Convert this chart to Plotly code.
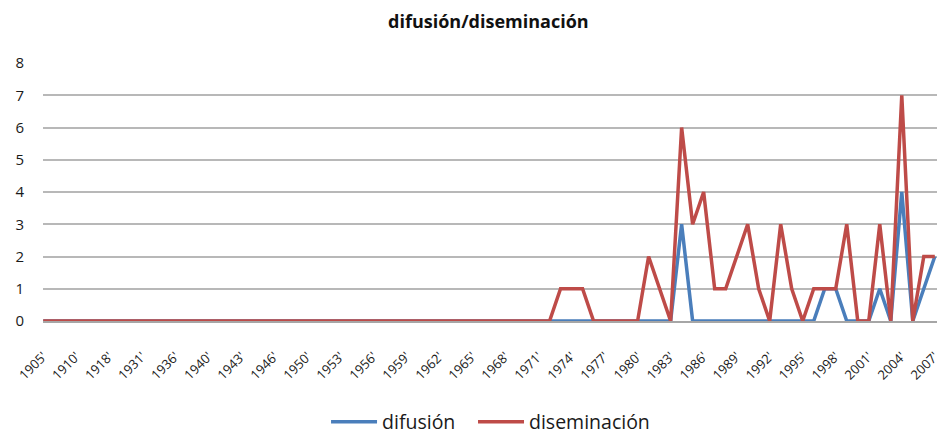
import plotly.graph_objects as go

# Category labels (every 3rd one is shown on the axis; hidden ones are estimates)
years = [
    "1905'", "1907'", "1908'", "1910'", "1912'", "1915'", "1918'", "1922'", "1925'",
    "1931'", "1933'", "1934'", "1936'", "1938'", "1939'", "1940'", "1941'", "1942'",
    "1943'", "1944'", "1945'", "1946'", "1947'", "1948'",
] + [f"{y}'" for y in range(1950, 2008)]

shown_labels = years[::3]

difusion = [0] * 58 + [3] + [0] * 12 + [1, 1, 0, 0, 0, 1, 0, 4, 0, 1, 2]

diseminacion = [0] * 47 + [
    1, 1, 1, 0, 0, 0, 0, 0, 2, 1, 0, 6, 3, 4, 1, 1, 2, 3, 1, 0,
    3, 1, 0, 1, 1, 1, 3, 0, 0, 3, 0, 7, 0, 2, 2,
]

font_family = "Open Sans, Lato, sans-serif"

fig = go.Figure()
fig.add_trace(go.Scatter(
    x=years, y=difusion, mode="lines", name="difusión",
    line=dict(color="#4A7EBB", width=3.5), legend="legend",
))
fig.add_trace(go.Scatter(
    x=years, y=diseminacion, mode="lines", name="diseminación",
    line=dict(color="#BE4B48", width=3.5), legend="legend2",
))

legend_style = dict(
    orientation="h", yanchor="middle", y=-0.392, xanchor="left",
    font=dict(size=19.5, color="#1a1a1a"), itemwidth=46,
    bgcolor="rgba(0,0,0,0)",
)

# The page body has an 8px margin, so the figure is sized 940x430.
fig.update_layout(
    width=940, height=430,
    margin=dict(l=35, r=11, t=55, b=117, autoexpand=False),
    paper_bgcolor="white", plot_bgcolor="white",
    font=dict(family=font_family, color="#1a1a1a"),
    title=dict(
        text="<b>difusión/diseminación</b>",
        x=0.511, xanchor="center", y=0.967, yanchor="middle",
        font=dict(size=18, color="#111111", family=font_family),
    ),
    showlegend=True,
    legend=dict(legend_style, x=0.3166),
    legend2=dict(legend_style, x=0.481),
    xaxis=dict(
        type="category", categoryorder="array", categoryarray=years,
        range=[-0.02, 81.2], automargin=False,
        tickmode="array", tickvals=shown_labels, ticktext=shown_labels,
        tickangle=-45, tickfont=dict(size=13, color="#1a1a1a"),
        showgrid=False, showline=True, linecolor="#A6A6A6", linewidth=1.5,
        ticks="", ticklabelstandoff=21, zeroline=False,
    ),
    yaxis=dict(
        range=[0, 8], dtick=1, tick0=0, automargin=False,
        showgrid=True, gridcolor="#B8B8B8", gridwidth=1.5,
        zeroline=False, showline=False, ticks="",
        tickfont=dict(size=15, color="#1a1a1a"),
        ticklabelstandoff=18,
    ),
)

fig.write_html("out.html")
